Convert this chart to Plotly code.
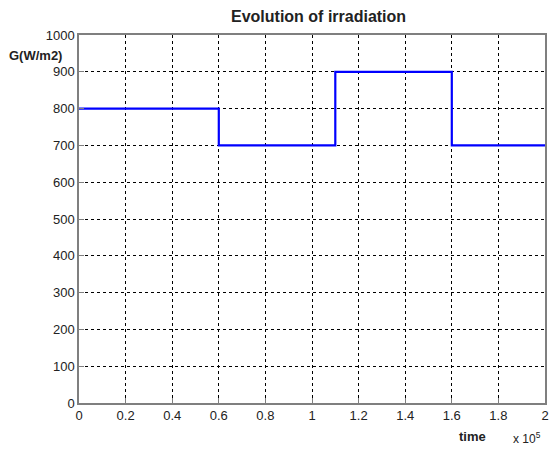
import plotly.graph_objects as go

# Step breakpoints (time in seconds) and irradiation levels (W/m2)
time_pts = [0, 60000, 110000, 160000, 200000]
irr_vals = [800, 700, 900, 700, 700]

x_tick_vals = [0, 20000, 40000, 60000, 80000, 100000, 120000, 140000, 160000, 180000, 200000]
x_tick_text = ["0", "0.2", "0.4", "0.6", "0.8", "1", "1.2", "1.4", "1.6", "1.8", "2"]
y_tick_vals = [0, 100, 200, 300, 400, 500, 600, 700, 800, 900, 1000]

fig = go.Figure()
fig.add_trace(go.Scatter(
    x=time_pts, y=irr_vals, mode="lines", line_shape="hv",
    line=dict(color="#0000FF", width=2.2), showlegend=False,
))

font = "Liberation Sans, Arial, sans-serif"
axis_common = dict(
    showgrid=True, gridcolor="#000000", griddash="3px,3px", gridwidth=1,
    showline=True, linecolor="#7f7f7f", linewidth=1.5, mirror=True,
    ticks="inside", ticklen=5, tickcolor="#7f7f7f", automargin=False,
    zeroline=False, tickfont=dict(family=font, size=13, color="#222222"),
)

L, R, T, B = 79, 5, 35, 47
W, H = 550, 450
pw, ph = W - L - R, H - T - B

def px(xp, yp):
    return (xp - L) / pw, (H - B - yp) / ph

anns = []
def add(text, xp, yp, size, xanchor="center"):
    ax, ay = px(xp, yp)
    anns.append(dict(text=text, x=ax, y=ay, xref="paper", yref="paper", showarrow=False,
                     xanchor=xanchor, yanchor="middle",
                     font=dict(family=font, size=size, color="#222222")))

add("<b>Evolution of irradiation</b>", 318, 16, 16)
add("<b>G(W/m2)</b>", 7, 55, 13, "left")
add("<b>time</b>", 472, 436, 13)
add("x 10<sup>5</sup>", 527, 438, 12)

fig.update_layout(
    width=W, height=H,
    margin=dict(l=L, r=R, t=T, b=B, autoexpand=False),
    paper_bgcolor="white", plot_bgcolor="white",
    xaxis=dict(range=[0, 200000], tickvals=x_tick_vals, ticktext=x_tick_text, **axis_common),
    yaxis=dict(range=[0, 1000], tickvals=y_tick_vals, **axis_common),
    annotations=anns,
)

fig.write_html("out.html")
